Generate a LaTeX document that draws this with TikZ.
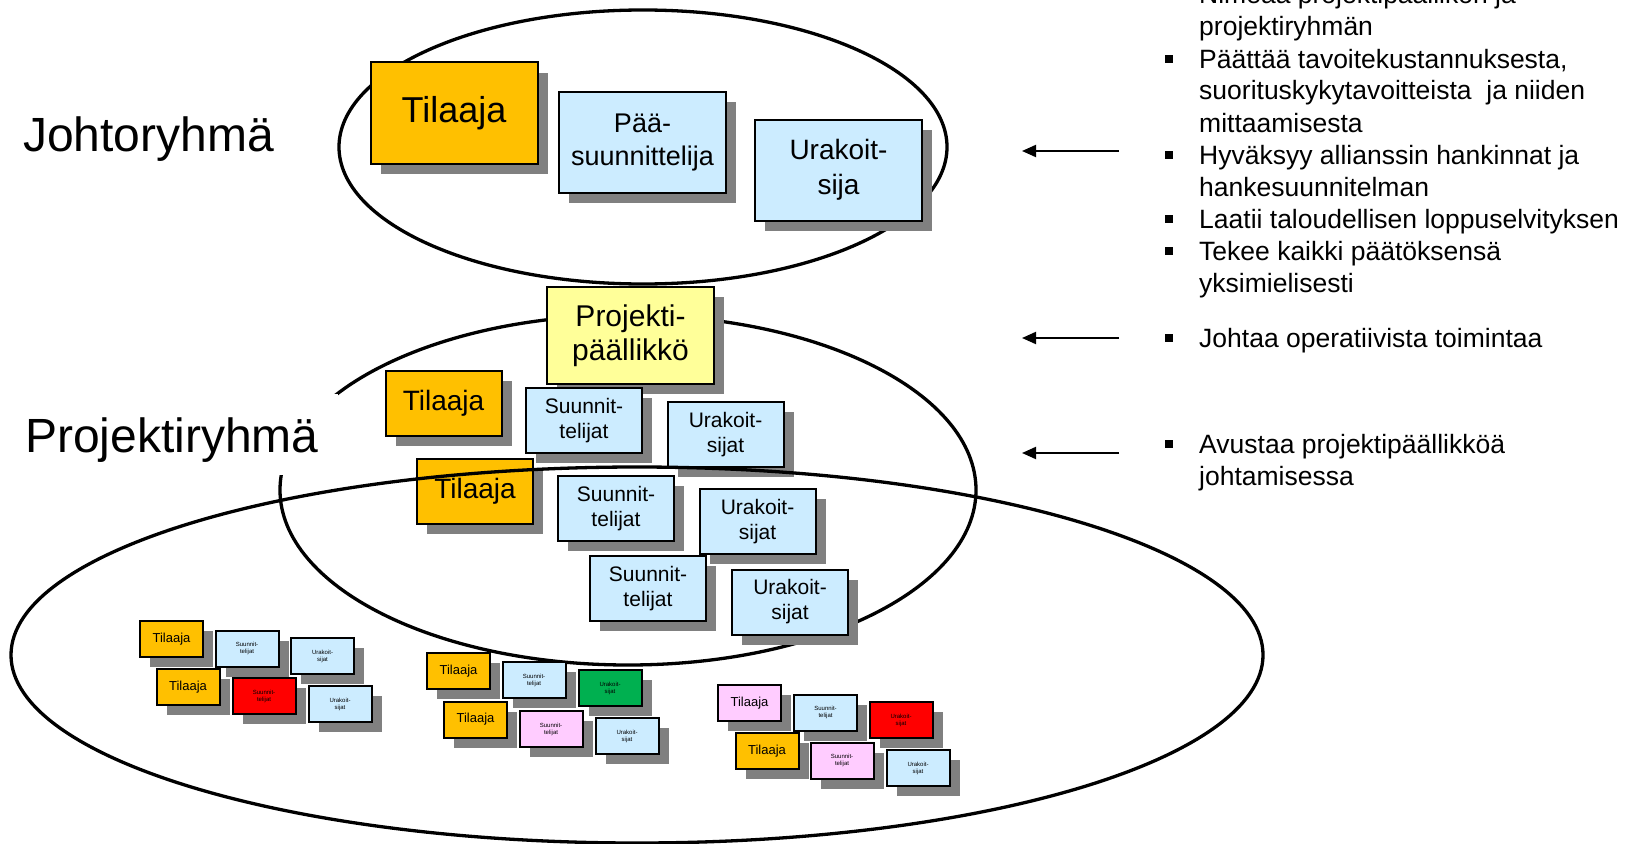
\documentclass[tikz,border=0pt]{standalone}
\usepackage{fontspec}
\setmainfont{Liberation Sans}
\usetikzlibrary{shadows,arrows.meta,shapes.geometric}
\definecolor{tilor}{HTML}{FFC000}
\definecolor{lblue}{HTML}{CCECFF}
\definecolor{lyellow}{HTML}{FFFF99}
\definecolor{lpink}{HTML}{FFCCFF}
\definecolor{sgray}{HTML}{808080}
\definecolor{dgreen}{HTML}{00B050}
\definecolor{bred}{HTML}{FF0000}
\begin{document}
\begin{tikzpicture}[x=1pt,y=-1pt,
  card/.style={draw=black, line width=2pt, rectangle, inner sep=0pt, align=center,
    general shadow={fill=sgray, shadow xshift=10pt, shadow yshift=-10pt}},
  bigcard/.style={card, minimum width=167pt, minimum height=101pt},
  midcard/.style={card, minimum width=116pt, minimum height=65pt},
  smallcard/.style={card, minimum width=63pt, minimum height=36pt},
  fbig/.style={font=\fontsize{36}{42}\selectfont},
  fbox/.style={font=\fontsize{27}{33}\selectfont},
  fbox2/.style={font=\fontsize{28}{35}\selectfont},
  fmidt/.style={font=\fontsize{28}{33}\selectfont},
  fmid/.style={font=\fontsize{21}{25}\selectfont},
  fsmt/.style={font=\fontsize{13}{15}\selectfont},
  fsm/.style={font=\fontsize{6}{7}\selectfont},
  ring/.style={ellipse, draw=black, line width=3.3pt, inner sep=0pt},
  grouplabel/.style={font=\fontsize{48}{56}\selectfont, inner sep=0pt, anchor=base west},
  item/.style={font=\fontsize{26.5}{32}\selectfont, inner sep=0pt, anchor=base west},
  sq/.style={fill=black, minimum size=8pt, inner sep=0pt, rectangle},
  larrow/.style={line width=2pt, -{Triangle[length=14pt,width=12pt]}}
]
\useasboundingbox (0,0) rectangle (1637,843);

% ellipses behind the cards
\node[ring, minimum width=608pt, minimum height=274pt] (johto) at (643,147) {};
\node[ring, minimum width=696pt, minimum height=350pt] (projekti) at (628,490) {};

% group labels
\node[grouplabel] (jlab) at (23,151) {Johtoryhmä};
\node[grouplabel, fill=white, inner xsep=19pt, inner ysep=0pt, text height=58pt, text depth=23pt] (plab) at (6,452) {Projektiryhmä};

% Johtoryhmä cards
\node[bigcard, fill=tilor, fbig] (jt) at (454,113) {Tilaaja};
\node[bigcard, fill=lblue, fbox] (jp) at (642.5,142.5) {Pää-\\suunnittelija};
\node[bigcard, fill=lblue, fbox2] (ju) at (838.5,170) {Urakoit-\\sija};

% Projektipäällikkö
\node[card, minimum width=167pt, minimum height=97pt, fill=lyellow, font=\fontsize{30}{34}\selectfont] (pp) at (630.5,335.5) {Projekti-\\päällikkö};

% Projektiryhmä cards
\node[midcard, fill=tilor, fmidt] (mt1) at (443.5,403.5) {Tilaaja};
\node[midcard, fill=lblue, fmid] (ms1) at (584,420.5) {Suunnit-\\telijat};
\node[midcard, fill=lblue, fmid] (mu1) at (725.5,434.5) {Urakoit-\\sijat};
\node[midcard, fill=tilor, fmidt] (mt2) at (475,491) {Tilaaja};
\node[midcard, fill=lblue, fmid] (ms2) at (616,508.5) {Suunnit-\\telijat};
\node[midcard, fill=lblue, fmid] (mu2) at (757.5,521.5) {Urakoit-\\sijat};
\node[midcard, fill=lblue, fmid] (ms3) at (648,588.5) {Suunnit-\\telijat};
\node[midcard, fill=lblue, fmid] (mu3) at (790,602) {Urakoit-\\sijat};

% small groups
\node[smallcard, fill=tilor, fsmt] (g1t1) at (171.5,639) {Tilaaja};
\node[smallcard, fill=lblue, fsm] (g1s1) at (247,648.5) {Suunnit-\\telijat};
\node[smallcard, fill=lblue, fsm] (g1u1) at (322.5,656) {Urakoit-\\sijat};
\node[smallcard, fill=tilor, fsmt] (g1t2) at (188,687) {Tilaaja};
\node[smallcard, fill=bred, fsm] (g1s2) at (264,696) {Suunnit-\\telijat};
\node[smallcard, fill=lblue, fsm] (g1u2) at (340,704) {Urakoit-\\sijat};

\node[smallcard, fill=tilor, fsmt] (g2t1) at (458.5,671) {Tilaaja};
\node[smallcard, fill=lblue, fsm] (g2s1) at (534,680) {Suunnit-\\telijat};
\node[smallcard, fill=dgreen, fsm] (g2u1) at (610,688) {Urakoit-\\sijat};
\node[smallcard, fill=tilor, fsmt] (g2t2) at (475.5,719.5) {Tilaaja};
\node[smallcard, fill=lpink, fsm] (g2s2) at (551,729) {Suunnit-\\telijat};
\node[smallcard, fill=lblue, fsm] (g2u2) at (627,736) {Urakoit-\\sijat};

\node[smallcard, fill=lpink, fsmt] (g3t1) at (749.5,703) {Tilaaja};
\node[smallcard, fill=lblue, fsm] (g3s1) at (825.5,712.5) {Suunnit-\\telijat};
\node[smallcard, fill=bred, fsm] (g3u1) at (901,720) {Urakoit-\\sijat};
\node[smallcard, fill=tilor, fsmt] (g3t2) at (767,751) {Tilaaja};
\node[smallcard, fill=lpink, fsm] (g3s2) at (842,760.5) {Suunnit-\\telijat};
\node[smallcard, fill=lblue, fsm] (g3u2) at (918,768) {Urakoit-\\sijat};

% big ellipse on top of the cards
\node[ring, minimum width=1252pt, minimum height=376pt] (koko) at (637,655) {};

% arrows
\coordinate (a1s) at (1119,151); \coordinate (a1e) at (1022,151);
\coordinate (a2s) at (1119,338); \coordinate (a2e) at (1022,338);
\coordinate (a3s) at (1119,453); \coordinate (a3e) at (1022,453);
\draw[larrow] (a1s) -- (a1e);
\draw[larrow] (a2s) -- (a2e);
\draw[larrow] (a3s) -- (a3e);

% bullet list
\node[sq] (b1) at (1169,-5) {};
\node[item] (t1) at (1199,4) {\parbox[t]{430pt}{\raggedright Nimeää projektipäällikön ja\\projektiryhmän}};
\node[sq] (b2) at (1169,59) {};
\node[item] (t2) at (1199,68) {\parbox[t]{430pt}{\raggedright Päättää tavoitekustannuksesta,\\suorituskykytavoitteista\ \ ja niiden\\mittaamisesta}};
\node[sq] (b3) at (1169,155) {};
\node[item] (t3) at (1199,164) {\parbox[t]{430pt}{\raggedright Hyväksyy allianssin hankinnat ja\\hankesuunnitelman}};
\node[sq] (b4) at (1169,219) {};
\node[item] (t4) at (1199,228) {Laatii taloudellisen loppuselvityksen};
\node[sq] (b5) at (1169,251) {};
\node[item] (t5) at (1199,260) {\parbox[t]{430pt}{\raggedright Tekee kaikki päätöksensä\\yksimielisesti}};
\node[sq] (b6) at (1169,338) {};
\node[item] (t6) at (1199,347) {Johtaa operatiivista toimintaa};
\node[sq] (b7) at (1169,444) {};
\node[item] (t7) at (1199,453) {\parbox[t]{430pt}{\raggedright Avustaa projektipäällikköä\\johtamisessa}};
\end{tikzpicture}
\end{document}
